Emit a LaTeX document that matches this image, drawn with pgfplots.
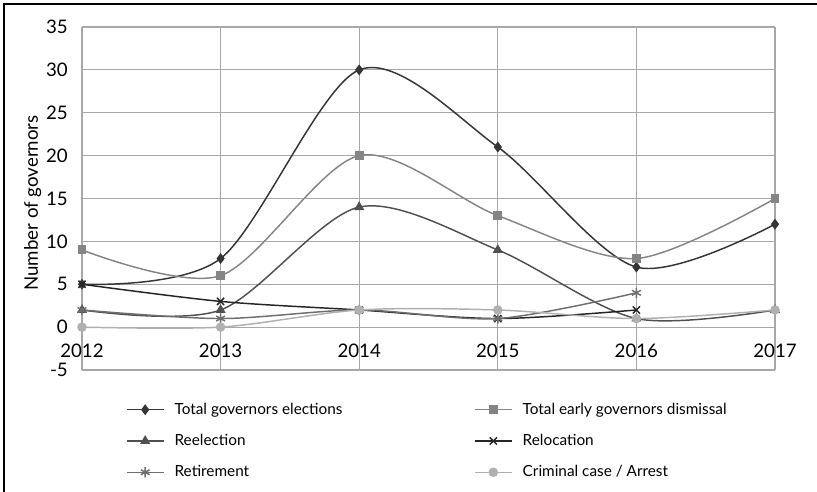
\documentclass[border=0pt]{standalone}
\usepackage{pgfplots}
\pgfplotsset{compat=1.18}
\usepackage{fontspec}
\setmainfont{Lato}
\definecolor{cA}{HTML}{353535}
\definecolor{cB}{HTML}{858585}
\definecolor{cC}{HTML}{505050}
\definecolor{cD}{HTML}{252525}
\definecolor{cE}{HTML}{6E6E6E}
\definecolor{cF}{HTML}{B0B0B0}
\definecolor{gridc}{HTML}{A8A8A8}
\begin{document}
\begin{tikzpicture}
\useasboundingbox (0,0) rectangle (612.75pt,369pt);
\draw[line width=1.5pt] (3pt,0) -- (3pt,366pt) -- (612.75pt,366pt);
\begin{axis}[
  at={(61.5pt,91.5pt)}, anchor=south west,
  scale only axis, width=519.75pt, height=257.25pt,
  xmin=2012, xmax=2017, ymin=-5, ymax=35,
  xtick={2012,2013,2014,2015,2016,2017},
  ytick={-5,0,5,10,15,20,25,30,35},
  axis x line=middle, axis y line=left,
  axis line style={draw=none,-},
  hide obscured x ticks=false, hide obscured y ticks=false,
  major tick style={draw=none},
  grid=major,
  major grid style={gridc, line width=0.9pt},
  x tick label style={/pgf/number format/1000 sep={}, font=\fontsize{14}{16}\selectfont, yshift=-7pt},
  y tick label style={font=\fontsize{14}{16}\selectfont, xshift=-5pt},
  /pgf/number format/assume math mode=true,
  every axis y label/.style={at={(axis description cs:-0.071,0.487)}, rotate=90, anchor=center, font=\fontsize{14}{16}\selectfont},
  ylabel={Number of governors},
  legend columns=2,
  legend cell align=left,
  legend style={draw=none, fill=none, at={(axis description cs:0.058,-0.08)}, anchor=north west,
    font=\fontsize{11.5}{13}\selectfont, row sep=9.5pt,
    /tikz/every odd column/.append style={column sep=6pt}},
  legend image code/.code={\draw[mark repeat=2,mark phase=2] plot coordinates {(0pt,0pt) (13.5pt,0pt) (27pt,0pt)};},
  every axis plot/.append style={line width=1.1pt, smooth, tension=0.5},
  clip=false,
]
\addplot[cA, mark=diamond*, mark size=3.2pt, mark options={solid}] coordinates {(2012,5) (2013,8) (2014,30) (2015,21) (2016,7) (2017,12)};
\addlegendentry{\makebox[223pt][l]{Total governors elections}}
\addplot[cB, mark=square*, mark size=2.8pt] coordinates {(2012,9) (2013,6) (2014,20) (2015,13) (2016,8) (2017,15)};
\addlegendentry{Total early governors dismissal}
\addplot[cC, mark=triangle*, mark size=3.3pt] coordinates {(2012,2) (2013,2) (2014,14) (2015,9) (2016,1) (2017,2)};
\addlegendentry{\makebox[223pt][l]{Reelection}}
\addplot[cD, mark=x, mark size=3.8pt] coordinates {(2012,5) (2013,3) (2014,2) (2015,1) (2016,2)};
\addlegendentry{Relocation}
\addplot[cE, mark=asterisk, mark size=3.8pt] coordinates {(2012,2) (2013,1) (2014,2) (2015,1) (2016,4)};
\addlegendentry{\makebox[223pt][l]{Retirement}}
\addplot[cF, mark=*, mark size=3pt] coordinates {(2012,0) (2013,0) (2014,2) (2015,2) (2016,1) (2017,2)};
\addlegendentry{Criminal case / Arrest}
\end{axis}
\end{tikzpicture}
\end{document}
